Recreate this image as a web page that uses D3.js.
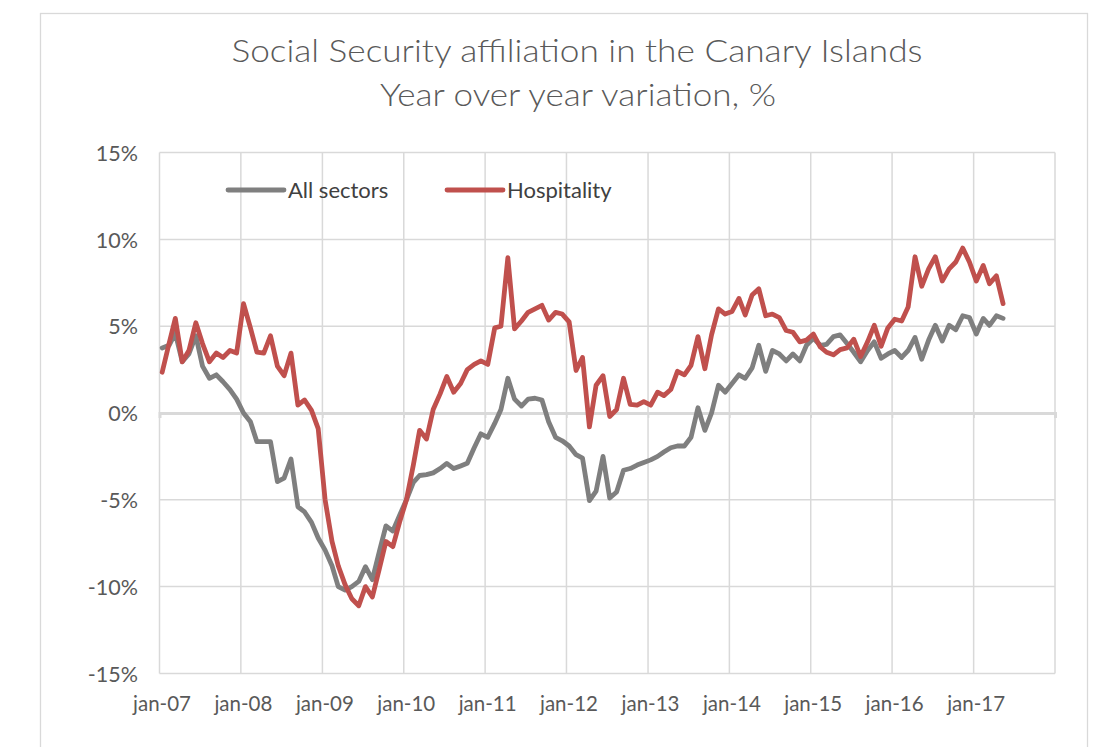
<!DOCTYPE html>
<html><head><meta charset="utf-8">
<script src="https://cdn.jsdelivr.net/npm/d3@7"></script>
<style>
html,body{margin:0;padding:0;background:#fff;}
svg{display:block;}
text{font-family:Lato,"Open Sans","DejaVu Sans",sans-serif;}
</style></head>
<body><svg id="chart" width="1106" height="747"></svg>
<script>
// ---- data ----
const titleLines = ["Social Security affiliation in the Canary Islands", "Year over year variation, %"];
const seriesNames = ["All sectors", "Hospitality"];
const startYear = 2007, startMonth = 0, monthCount = 125; // jan-07 .. may-17
const allSectors = [
  3.75, 3.9, 4.6, 2.95, 3.4, 4.45, 2.7, 2.0, 2.2, 1.8,
  1.35, 0.8, 0.0, -0.5, -1.65, -1.65, -1.65, -3.95, -3.75, -2.65,
  -5.4, -5.7, -6.3, -7.2, -7.9, -8.8, -10.0, -10.2, -10.0, -9.7,
  -8.85, -9.6, -8.0, -6.5, -6.8, -5.9, -5.0, -4.0, -3.6, -3.55,
  -3.45, -3.2, -2.9, -3.2, -3.05, -2.9, -2.0, -1.2, -1.4, -0.6,
  0.2, 2.0, 0.8, 0.4, 0.8, 0.85, 0.75, -0.5, -1.4, -1.6,
  -1.9, -2.4, -2.6, -5.05, -4.5, -2.5, -4.9, -4.55, -3.3, -3.2,
  -3.0, -2.85, -2.7, -2.5, -2.25, -2.0, -1.9, -1.9, -1.4, 0.3,
  -1.0, 0.0, 1.6, 1.2, 1.7, 2.2, 2.0, 2.6, 3.9, 2.4,
  3.6, 3.4, 3.0, 3.4, 3.0, 3.9, 4.3, 3.9, 3.95, 4.4,
  4.5, 4.0, 3.5, 2.95, 3.6, 4.1, 3.15, 3.4, 3.6, 3.2,
  3.6, 4.35, 3.1, 4.2, 5.05, 4.15, 5.05, 4.8, 5.6, 5.5,
  4.55, 5.45, 5.05, 5.6, 5.45
];
const hospitality = [
  2.35, 4.0, 5.45, 2.95, 3.6, 5.2, 4.0, 2.95, 3.45, 3.2,
  3.6, 3.45, 6.3, 4.9, 3.5, 3.45, 4.45, 2.7, 2.15, 3.45,
  0.45, 0.75, 0.15, -0.9, -5.0, -7.4, -8.8, -9.9, -10.7, -11.1,
  -10.0, -10.6, -9.0, -7.4, -7.7, -6.3, -5.0, -3.0, -1.0, -1.5,
  0.2, 1.1, 2.1, 1.2, 1.7, 2.5, 2.8, 3.0, 2.8, 4.9,
  5.0, 8.95, 4.85, 5.3, 5.8, 6.0, 6.2, 5.35, 5.8, 5.7,
  5.25, 2.45, 3.2, -0.8, 1.6, 2.15, -0.2, 0.2, 2.0, 0.5,
  0.45, 0.65, 0.45, 1.2, 1.0, 1.35, 2.4, 2.2, 2.75, 4.4,
  2.55, 4.5, 6.0, 5.7, 5.85, 6.6, 5.65, 6.8, 7.15, 5.6,
  5.7, 5.5, 4.75, 4.65, 4.1, 4.2, 4.55, 3.8, 3.5, 3.35,
  3.65, 3.75, 4.25, 3.25, 4.1, 5.05, 3.85, 4.9, 5.4, 5.3,
  6.1, 9.0, 7.3, 8.3, 9.0, 7.6, 8.3, 8.7, 9.5, 8.7,
  7.6, 8.5, 7.45, 7.9, 6.3
];
const yTicks = [-15, -10, -5, 0, 5, 10, 15];
const xTickLabels = ["jan-07","jan-08","jan-09","jan-10","jan-11","jan-12","jan-13","jan-14","jan-15","jan-16","jan-17"];
const colors = ["#7f7f7f", "#c0504d"];

// ---- layout ----
const svg = d3.select("#chart");
const plot = {left: 159.5, right: 1055, top: 152.6, bottom: 673.4};
const dates = d3.range(monthCount).map(i => new Date(startYear, startMonth + i, 13));
const x = d3.scaleTime()
  .domain([new Date(2007, 0, 1), new Date(2018, 0, 1)])
  .range([plot.left, plot.right]);
const y = d3.scaleLinear().domain([-15, 15]).range([plot.bottom, plot.top]);
const gridYears = d3.range(2007, 2019).map(yy => new Date(yy, 0, 1));

// frame
svg.append("rect").attr("x", 40.5).attr("y", 13.5).attr("width", 1047).attr("height", 760)
  .attr("fill", "#fff").attr("stroke", "#d9d9d9").attr("stroke-width", 1.3);

// title
const title = svg.append("text").attr("text-anchor", "middle").attr("fill", "#595959")
  .style("font-size", "32px").style("font-weight", 300);
title.append("tspan").attr("x", 577).attr("y", 62).text(titleLines[0])
  .attr("textLength", 691).attr("lengthAdjust", "spacingAndGlyphs");
title.append("tspan").attr("x", 578).attr("y", 106).text(titleLines[1])
  .attr("textLength", 396).attr("lengthAdjust", "spacingAndGlyphs");

// grid: horizontal
svg.append("g").selectAll("line").data(yTicks).join("line")
  .attr("x1", plot.left).attr("x2", plot.right)
  .attr("y1", d => y(d)).attr("y2", d => y(d))
  .attr("stroke", "#d9d9d9").attr("stroke-width", 1.5);
// grid: vertical
svg.append("g").selectAll("line").data(gridYears).join("line")
  .attr("x1", d => x(d)).attr("x2", d => x(d))
  .attr("y1", plot.top).attr("y2", plot.bottom)
  .attr("stroke", "#d9d9d9").attr("stroke-width", 1.5);

// zero axis with ticks
const xAxis = d3.axisBottom(x).tickValues(gridYears).tickSize(5).tickFormat("");
const ax = svg.append("g").attr("transform", `translate(0,${y(0)})`).call(xAxis);
ax.select(".domain").attr("stroke", "#d9d9d9").attr("stroke-width", 3);
ax.selectAll(".tick line").attr("stroke", "#d9d9d9").attr("stroke-width", 1.5).attr("y1", 0);

// y labels
const yAxis = d3.axisLeft(y).tickValues(yTicks).tickSize(0).tickPadding(0).tickFormat(d => d + "%");
const ay = svg.append("g").attr("transform", `translate(138,0)`).call(yAxis);
ay.select(".domain").remove();
ay.selectAll("text").attr("fill", "#595959").style("font-size", "21.5px")
  .style("font-family", "Lato, 'Open Sans', sans-serif").attr("dy", "0.36em");

// x labels
const xl = svg.append("g").attr("transform", `translate(0,${plot.bottom})`)
  .call(d3.axisBottom(x).tickValues(gridYears.slice(0, xTickLabels.length)).tickSize(0).tickPadding(0)
    .tickFormat((d, i) => xTickLabels[i]));
xl.select(".domain").remove();
xl.selectAll("text").attr("fill", "#595959").style("font-size", "20.5px")
  .style("font-family", "Lato, 'Open Sans', sans-serif").attr("y", 38).attr("dy", 0)
  .attr("dx", 2);

// lines
const line = d3.line().x((d, i) => x(dates[i])).y(d => y(d)).curve(d3.curveLinear);
[allSectors, hospitality].forEach((s, k) => {
  svg.append("path").datum(s).attr("d", line).attr("fill", "none")
    .attr("stroke", colors[k]).attr("stroke-width", 4.8)
    .attr("stroke-linejoin", "round").attr("stroke-linecap", "round");
});

// legend
const legendItems = [
  {name: seriesNames[0], color: colors[0], x0: 228},
  {name: seriesNames[1], color: colors[1], x0: 447}
];
const lg = svg.append("g");
legendItems.forEach(it => {
  lg.append("line").attr("x1", it.x0).attr("x2", it.x0 + 56).attr("y1", 190).attr("y2", 190)
    .attr("stroke", it.color).attr("stroke-width", 4.8).attr("stroke-linecap", "round");
  lg.append("text").attr("x", it.x0 + 60).attr("y", 197.5).text(it.name)
    .attr("fill", "#404040").style("font-size", "22px");
});
</script></body></html>
